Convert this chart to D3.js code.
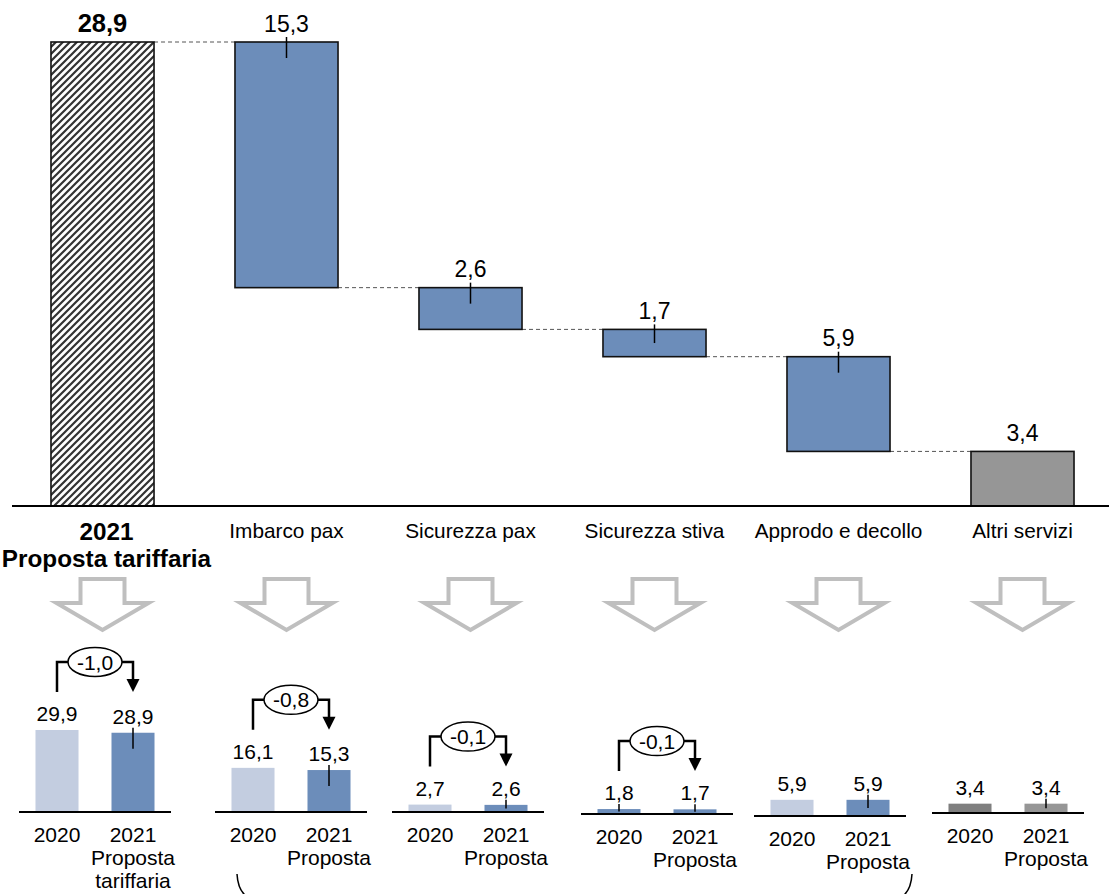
<!DOCTYPE html>
<html><head><meta charset="utf-8">
<script src="https://cdn.jsdelivr.net/npm/d3@7"></script>
<style>
body{margin:0;background:#fff}
svg{display:block}
text{font-family:"Liberation Sans",Arial,sans-serif;fill:#000}
</style>
</head><body><svg id="c" width="1109" height="894"></svg>
<script>
// ---------- data ----------
const categories = ["2021 Proposta tariffaria", "Imbarco pax", "Sicurezza pax", "Sicurezza stiva", "Approdo e decollo", "Altri servizi"];
const totalLabelLines = ["2021", "Proposta tariffaria"];
const mainValues = [28.9, 15.3, 2.6, 1.7, 5.9, 3.4];
const years = ["2020", "2021"];
const values2020 = [29.9, 16.1, 2.7, 1.8, 5.9, 3.4];
const values2021 = [28.9, 15.3, 2.6, 1.7, 5.9, 3.4];
const sublabels2021 = [["Proposta", "tariffaria"], ["Proposta"], ["Proposta"], ["Proposta"], ["Proposta"], ["Proposta"]];

// ---------- helpers ----------
const loc = d3.formatLocale({decimal: ",", thousands: ".", grouping: [3], currency: ["", "€"], minus: "-"});
const fmt = loc.format(".1f");
const svg = d3.select("#c");
const FONT = 21;

// ---------- main waterfall ----------
const x = d3.scaleBand().domain(categories).range([10.5, 1114.5]).paddingInner(0.44).paddingOuter(0.22);
const y = d3.scaleLinear().domain([0, 28.9]).range([506, 42]);

let running = mainValues[0];
const wf = mainValues.map((v, i) => {
  if (i === 0) return {cat: categories[i], v, lo: 0, hi: v, level: v};
  if (i === mainValues.length - 1) return {cat: categories[i], v, lo: 0, hi: v, level: 0};
  const hi = running, lo = running - v; running = lo;
  return {cat: categories[i], v, lo, hi, level: lo};
});

const defs = svg.append("defs");
const pat = defs.append("pattern").attr("id", "hatch").attr("patternUnits", "userSpaceOnUse")
  .attr("width", 7).attr("height", 7);
pat.append("rect").attr("width", 7).attr("height", 7).attr("fill", "#fff");
pat.append("path").attr("d", "M-1,8 L8,-1 M-4,4 L4,-4 M3,11 L11,3").attr("stroke", "#333").attr("stroke-width", 2.2);

const fills = ["url(#hatch)", "#6c8dba", "#6c8dba", "#6c8dba", "#6c8dba", "#969696"];
const hasTick = [false, true, true, true, true, false];

// connectors
svg.append("g").selectAll("line").data(wf.slice(0, -1)).join("line")
  .attr("x1", (d) => x(d.cat) + x.bandwidth())
  .attr("x2", (d, i) => x(categories[i + 1]))
  .attr("y1", (d) => y(d.level)).attr("y2", (d) => y(d.level))
  .attr("stroke", "#555").attr("stroke-width", 1).attr("stroke-dasharray", "4,3");

svg.append("g").selectAll("rect").data(wf).join("rect")
  .attr("x", (d) => x(d.cat)).attr("width", x.bandwidth())
  .attr("y", (d) => y(d.hi)).attr("height", (d) => y(d.lo) - y(d.hi))
  .attr("fill", (d, i) => fills[i]).attr("stroke", "#111").attr("stroke-width", 1.6);

svg.append("g").selectAll("line").data(wf.filter((d, i) => hasTick[i])).join("line")
  .attr("x1", (d) => x(d.cat) + x.bandwidth() / 2).attr("x2", (d) => x(d.cat) + x.bandwidth() / 2)
  .attr("y1", (d) => y(d.hi) - 5)
  .attr("y2", (d) => y(d.hi) + Math.min(16, (y(d.lo) - y(d.hi)) / 2))
  .attr("stroke", "#000").attr("stroke-width", 1.5);

svg.append("g").selectAll("text").data(wf).join("text")
  .attr("x", (d) => x(d.cat) + x.bandwidth() / 2)
  .attr("y", (d) => y(d.hi) - 10.5)
  .attr("text-anchor", "middle")
  .attr("font-size", (d, i) => i === 0 ? 25.5 : 23)
  .attr("font-weight", (d, i) => i === 0 ? "bold" : "normal")
  .text((d) => fmt(d.v));

// axis baseline
svg.append("line").attr("x1", 12).attr("x2", 1109).attr("y1", y(0)).attr("y2", y(0))
  .attr("stroke", "#000").attr("stroke-width", 2);

// category labels
const catG = svg.append("g");
categories.forEach((c, i) => {
  const cx = x(c) + x.bandwidth() / 2;
  if (i === 0) {
    totalLabelLines.forEach((l, j) => {
      catG.append("text").attr("x", cx + 4).attr("y", 540 + j * 27).attr("text-anchor", "middle")
        .attr("font-size", 24.3).attr("font-weight", "bold").text(l);
    });
  } else {
    catG.append("text").attr("x", cx).attr("y", 538).attr("text-anchor", "middle")
      .attr("font-size", 20.8).text(c);
  }
});

// hollow down arrows
svg.append("g").selectAll("path").data(categories).join("path")
  .attr("d", (c) => {
    const cx = x(c) + x.bandwidth() / 2;
    return `M${cx - 22},579 L${cx + 22},579 L${cx + 22},603 L${cx + 46},603 L${cx},630 L${cx - 46},603 L${cx - 22},603 Z`;
  })
  .attr("fill", "none").attr("stroke", "#bfbfbf").attr("stroke-width", 4).attr("stroke-linejoin", "miter");

// ---------- small comparison panels ----------
const panelX0 = [19, 215, 392, 581, 754, 932];
const panelBase = [812, 812, 812, 814, 816, 813];
const panelColors = [
  ["#c3cde0", "#6c8dba"], ["#c3cde0", "#6c8dba"], ["#c3cde0", "#6c8dba"],
  ["#6c8dba", "#6c8dba"], ["#c3cde0", "#6c8dba"], ["#7f7f7f", "#969696"]
];
const panelTicks = [[false, true], [false, true], [false, true], [true, true], [false, true], [false, true]];
const hs = d3.scaleLinear().domain([0, 29.9]).range([0, 82]);

categories.forEach((c, p) => {
  const g = svg.append("g");
  const bx = d3.scaleBand().domain(years).range([panelX0[p], panelX0[p] + 152]).paddingInner(0.434).paddingOuter(0.217);
  const base = panelBase[p];
  const vals = [values2020[p], values2021[p]];
  const data = years.map((yr, k) => ({yr, v: vals[k], k}));

  g.selectAll("rect").data(data).join("rect")
    .attr("x", (d) => bx(d.yr)).attr("width", bx.bandwidth())
    .attr("y", (d) => base - hs(d.v)).attr("height", (d) => hs(d.v))
    .attr("fill", (d) => panelColors[p][d.k]);

  g.selectAll("line.tk").data(data.filter((d) => panelTicks[p][d.k])).join("line").attr("class", "tk")
    .attr("x1", (d) => bx(d.yr) + bx.bandwidth() / 2).attr("x2", (d) => bx(d.yr) + bx.bandwidth() / 2)
    .attr("y1", (d) => base - hs(d.v) - 5)
    .attr("y2", (d) => base - hs(d.v) + Math.min(16, hs(d.v) / 2))
    .attr("stroke", "#000").attr("stroke-width", 1.5);

  g.append("line").attr("x1", panelX0[p]).attr("x2", panelX0[p] + 152).attr("y1", base).attr("y2", base)
    .attr("stroke", "#000").attr("stroke-width", 2);

  g.selectAll("text.val").data(data).join("text").attr("class", "val")
    .attr("x", (d) => bx(d.yr) + bx.bandwidth() / 2).attr("y", (d) => base - hs(d.v) - 9)
    .attr("text-anchor", "middle").attr("font-size", FONT).text((d) => fmt(d.v));

  g.selectAll("text.yr").data(data).join("text").attr("class", "yr")
    .attr("x", (d) => bx(d.yr) + bx.bandwidth() / 2).attr("y", base + 30)
    .attr("text-anchor", "middle").attr("font-size", FONT).text((d) => d.yr);

  sublabels2021[p].forEach((l, j) => {
    g.append("text").attr("x", bx("2021") + bx.bandwidth() / 2).attr("y", base + 53 + j * 23)
      .attr("text-anchor", "middle").attr("font-size", FONT).text(l);
  });

  // change bracket
  const diff = Math.round((vals[1] - vals[0]) * 10) / 10;
  if (diff !== 0) {
    const x1 = bx("2020") + bx.bandwidth() / 2, x2 = bx("2021") + bx.bandwidth() / 2;
    const bottom = base - hs(d3.max(vals)) - 9 - 29;
    const top = bottom - 30;
    const cx = (x1 + x2) / 2, rx = 27, ry = 14.5;
    g.append("path").attr("d", `M${x1},${bottom} L${x1},${top} L${cx - rx},${top} M${cx + rx},${top} L${x2},${top} L${x2},${bottom - 12}`)
      .attr("fill", "none").attr("stroke", "#000").attr("stroke-width", 2.5);
    g.append("path").attr("d", `M${x2 - 6.5},${bottom - 13} L${x2 + 6.5},${bottom - 13} L${x2},${bottom} Z`).attr("fill", "#000");
    g.append("ellipse").attr("cx", cx).attr("cy", top).attr("rx", rx).attr("ry", ry)
      .attr("fill", "#fff").attr("stroke", "#000").attr("stroke-width", 1.5);
    g.append("text").attr("x", cx).attr("y", top + 7.5).attr("text-anchor", "middle")
      .attr("font-size", 21).text(fmt(diff));
  }
});

// bottom brace (cut off by the frame)
const bx2 = panelX0[1] + 22, bx5 = panelX0[4] + 158;
svg.append("path").attr("d", `M${bx2},874 Q${bx2 + 1},892 ${bx2 + 12},898 M${bx5},874 Q${bx5 - 1},892 ${bx5 - 12},898`)
  .attr("fill", "none").attr("stroke", "#000").attr("stroke-width", 1.5);
</script></body></html>
